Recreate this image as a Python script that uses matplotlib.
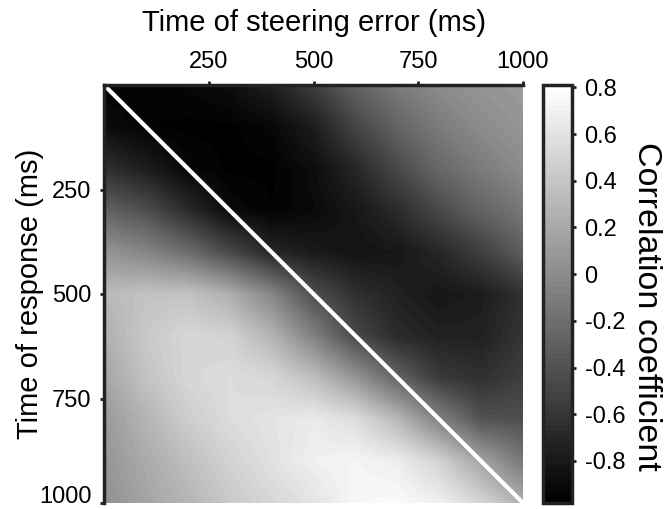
import numpy as np
import matplotlib
matplotlib.use("Agg")
import matplotlib.pyplot as plt
from matplotlib.transforms import ScaledTranslation

plt.rcParams['font.family'] = ['Liberation Sans', 'DejaVu Sans']

# Sample times (ms) of the correlation grid
times = [0, 100, 200, 300, 400, 500, 600, 700, 800, 900, 1000]

# Correlation coefficient; rows = time of response, columns = time of steering error
corr = [
    [-0.95, -0.95, -0.92, -0.88, -0.74, -0.53, -0.28, -0.11, 0.00, 0.07, 0.10],
    [-0.88, -0.95, -0.96, -0.96, -0.92, -0.77, -0.49, -0.28, -0.11, 0.00, 0.07],
    [-0.63, -0.77, -0.92, -0.96, -0.96, -0.88, -0.70, -0.46, -0.25, -0.11, 0.00],
    [-0.28, -0.42, -0.67, -0.90, -0.95, -0.90, -0.81, -0.67, -0.46, -0.28, -0.14],
    [0.07, -0.04, -0.21, -0.46, -0.70, -0.79, -0.84, -0.81, -0.70, -0.53, -0.32],
    [0.31, 0.38, 0.38, 0.24, -0.04, -0.42, -0.63, -0.74, -0.81, -0.77, -0.63],
    [0.24, 0.42, 0.52, 0.49, 0.28, -0.07, -0.46, -0.67, -0.74, -0.74, -0.60],
    [0.17, 0.38, 0.52, 0.56, 0.52, 0.35, 0.07, -0.28, -0.56, -0.63, -0.53],
    [0.10, 0.28, 0.45, 0.56, 0.61, 0.66, 0.57, 0.31, -0.07, -0.39, -0.42],
    [0.07, 0.21, 0.35, 0.49, 0.59, 0.70, 0.73, 0.68, 0.49, 0.17, -0.14],
    [0.03, 0.17, 0.28, 0.42, 0.52, 0.61, 0.75, 0.77, 0.70, 0.52, 0.24],
]

axis_ticks = [250, 500, 750, 1000]
cbar_ticks = [-0.8, -0.6, -0.4, -0.2, 0, 0.2, 0.4, 0.6, 0.8]
cbar_labels = ["-0.8", "-0.6", "-0.4", "-0.2", "0", "0.2", "0.4", "0.6", "0.8"]
vmin, vmax = -0.98, 0.81

fig = plt.figure(figsize=(6.68, 5.09), dpi=100)
ax = fig.add_axes([104 / 668, 6 / 509, 419 / 668, 418 / 509])
cax = fig.add_axes([543 / 668, 6 / 509, 29 / 668, 418 / 509])

data = np.array(corr)
step = times[1] - times[0]
cmap = plt.get_cmap('gray', 64)
im = ax.imshow(data, cmap=cmap, vmin=vmin, vmax=vmax, interpolation='bilinear',
               extent=[times[0] - step / 2, times[-1] + step / 2,
                       times[-1] + step / 2, times[0] - step / 2],
               aspect='auto')
ax.set_xlim(times[0], times[-1])
ax.set_ylim(times[-1], times[0])

# Diagonal: steering error time equals response time
ax.plot([times[0], times[-1]], [times[0], times[-1]], color='white', lw=3,
        solid_capstyle='butt')

ax.xaxis.tick_top()
ax.xaxis.set_label_position('top')
ax.set_xticks(axis_ticks)
ax.set_yticks(axis_ticks)
ax.tick_params(axis='both', direction='out', length=3, width=2, labelsize=17,
               color='#222222', pad=6)
ax.set_xlabel('Time of steering error (ms)', fontsize=21, labelpad=14)
ax.set_ylabel('Time of response (ms)', fontsize=21)
ax.yaxis.set_label_coords(-0.143, 0.5)
for side in ['right', 'bottom']:
    ax.spines[side].set_visible(False)
for side in ['left', 'top']:
    ax.spines[side].set_linewidth(2.5)
    ax.spines[side].set_color('#222222')

# keep the bottom y tick label inside the figure
last = ax.get_yticklabels()[-1]
last.set_transform(last.get_transform() + ScaledTranslation(0, 6 / 72, fig.dpi_scale_trans))

cb = fig.colorbar(im, cax=cax)
cb.set_ticks(cbar_ticks)
cb.set_ticklabels(cbar_labels)
cb.outline.set_linewidth(2.5)
cb.outline.set_edgecolor('#222222')
cax.tick_params(direction='out', length=3, width=2, labelsize=17, color='#222222', pad=6)
cb.set_label('Correlation coefficient', fontsize=24.5, rotation=270)
cax.yaxis.set_label_coords(4.1, 0.47)

fig.savefig('out.png', dpi=100)
